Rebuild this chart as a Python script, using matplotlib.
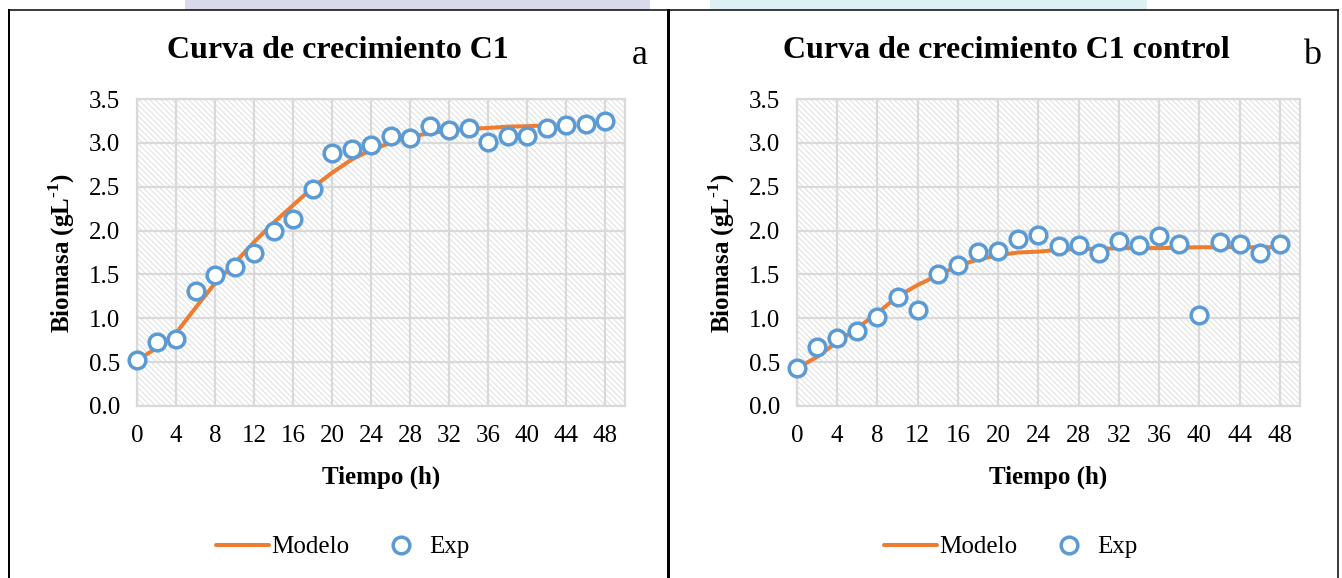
import numpy as np
import matplotlib; matplotlib.use("Agg")
import matplotlib.pyplot as plt
from matplotlib.patches import Rectangle
from matplotlib.lines import Line2D

t_exp = [0, 2, 4, 6, 8, 10, 12, 14, 16, 18, 20, 22, 24, 26, 28, 30, 32, 34, 36, 38, 40, 42, 44, 46, 48]
exp_c1 = [0.52, 0.73, 0.76, 1.31, 1.49, 1.58, 1.74, 2.00, 2.13, 2.47, 2.89, 2.93, 2.98, 3.08, 3.06,
          3.19, 3.15, 3.17, 3.01, 3.08, 3.08, 3.17, 3.20, 3.22, 3.25]
exp_ctrl = [0.43, 0.67, 0.77, 0.85, 1.02, 1.24, 1.10, 1.51, 1.61, 1.76, 1.77, 1.90, 1.95, 1.82, 1.83,
            1.74, 1.88, 1.83, 1.94, 1.85, 1.04, 1.87, 1.85, 1.75, 1.85]

t_mod_c1 = [0, 2, 4, 6, 8, 10, 12, 14, 16, 18, 20, 22, 24, 26, 28, 30, 32, 34, 36, 38, 40, 42]
mod_c1 = [0.52, 0.66, 0.83, 1.12, 1.40, 1.63, 1.87, 2.09, 2.29, 2.49, 2.66, 2.81, 2.92, 3.00, 3.07,
          3.11, 3.14, 3.16, 3.17, 3.185, 3.19, 3.20]
t_mod_ctrl = [0, 2, 4, 6, 8, 10, 12, 14, 16, 18, 20, 22, 24, 26, 28, 30, 32, 36, 40, 44, 48]
mod_ctrl = [0.43, 0.56, 0.73, 0.89, 1.06, 1.25, 1.38, 1.49, 1.60, 1.67, 1.72, 1.75, 1.76, 1.78, 1.79,
            1.79, 1.80, 1.80, 1.81, 1.81, 1.81]

titles = ["Curva de crecimiento C1", "Curva de crecimiento C1 control"]
letters = ["a", "b"]
x_ticks = list(range(0, 49, 4))
y_ticks = [0.0, 0.5, 1.0, 1.5, 2.0, 2.5, 3.0, 3.5]

ORANGE, BLUE, GRID = "#ED7D31", "#5B9BD5", "#D9D9D9"

plt.rcParams["font.family"] = ["Liberation Serif", "DejaVu Serif"]
plt.rcParams["mathtext.fontset"] = "custom"
plt.rcParams["mathtext.rm"] = "Liberation Serif"
plt.rcParams["mathtext.bf"] = "Liberation Serif:bold"
plt.rcParams["hatch.linewidth"] = 0.6

W, H = 1342, 578
fig = plt.figure(figsize=(W / 100, H / 100), dpi=100)

def fx(px): return px / W
def fy(py): return 1 - py / H

# faint page decoration above the panels
fig.patches.append(Rectangle((fx(185), fy(10)), fx(465), 10 / H, transform=fig.transFigure,
                             color="#D9D9EC", lw=0, zorder=0))
fig.patches.append(Rectangle((fx(710), fy(10)), fx(437), 10 / H, transform=fig.transFigure,
                             color="#DDF0F3", lw=0, zorder=0))

panels = [
    dict(ax=(137, 625), t_exp=t_exp, exp=exp_c1, t_mod=t_mod_c1, mod=mod_c1,
         title_x=338, letter_x=640, ylab_x=62, xlab_x=381, leg_x=343),
    dict(ax=(797, 1300), t_exp=t_exp, exp=exp_ctrl, t_mod=t_mod_ctrl, mod=mod_ctrl,
         title_x=1006, letter_x=1312, ylab_x=722, xlab_x=1048, leg_x=1011),
]

for i, p in enumerate(panels):
    x0, x1 = p["ax"]
    ax = fig.add_axes([fx(x0), fy(406), fx(x1 - x0), 307 / H])
    ax.set_xlim(0, 50)
    ax.set_ylim(0, 3.5)
    ax.add_patch(Rectangle((0, 0), 1, 1, transform=ax.transAxes, facecolor="white",
                           edgecolor="#DADADA", lw=0, hatch="\\" * 6, zorder=0))
    ax.set_xticks(x_ticks)
    ax.set_yticks(y_ticks)
    ax.set_yticklabels([f"{v:.1f}" for v in y_ticks])
    ax.tick_params(length=0, labelsize=18, pad=12)
    ax.tick_params(axis="x", pad=14)
    ax.grid(True, color=GRID, lw=1.6, zorder=1)
    ax.set_axisbelow(True)
    for s in ax.spines.values():
        s.set_color(GRID); s.set_linewidth(1.6)
    ax.plot(p["t_mod"], p["mod"], color=ORANGE, lw=2.9, zorder=3, label="Modelo",
            solid_capstyle="round")
    ax.plot(p["t_exp"], p["exp"], "o", ms=12, mfc="white", mec=BLUE, mew=2.5,
            zorder=4, label="Exp", clip_on=False)

    fig.text(fx(p["title_x"]), fy(51), titles[i], ha="center", va="center",
             fontsize=23, fontweight="bold")
    fig.text(fx(p["letter_x"]), fy(55), letters[i], ha="center", va="center", fontsize=26)
    fig.text(fx(p["ylab_x"]), fy(253), "Biomasa (g$\\mathbf{L}^{\\mathbf{\u20101}}$)", rotation=90,
             ha="center", va="center", fontsize=18, fontweight="bold")
    fig.text(fx(p["xlab_x"]), fy(477), "Tiempo (h)", ha="center", va="center",
             fontsize=18, fontweight="bold")
    ax.legend(loc="center", bbox_to_anchor=(fx(p["leg_x"]), fy(547)),
              bbox_transform=fig.transFigure, ncol=2, frameon=False, fontsize=18,
              handlelength=2.1, handletextpad=0.1, columnspacing=1.0)

# panel frames
for xs, ys, lw in [((9, 9), (10, H), 2), ((9, 1338), (10, 10), 1.5),
                   ((668, 668), (10, H), 3), ((1338, 1338), (10, H), 1.5)]:
    fig.add_artist(Line2D([fx(v) for v in xs], [fy(v) for v in ys], color="black",
                          lw=lw * 0.72, transform=fig.transFigure))

plt.savefig("out.png", dpi=100)
